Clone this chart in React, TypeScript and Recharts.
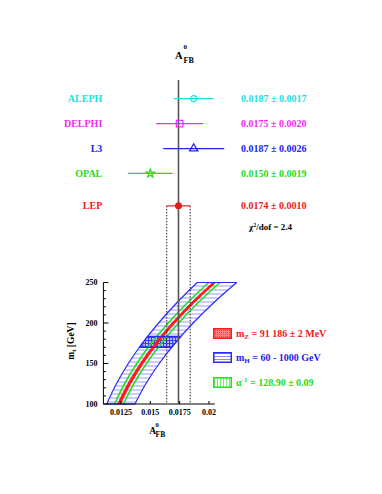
import React from 'react';
import { ComposedChart, Area, Scatter, XAxis, YAxis, ReferenceLine, ErrorBar, Legend, Symbols } from 'recharts';

// LEP measurements of A_FB^0 (b quarks)
const EXPERIMENTS = ['ALEPH', 'DELPHI', 'L3', 'OPAL', 'LEP'];
const AFB = [0.0187, 0.0175, 0.0187, 0.015, 0.0174];
const AFB_ERR = [0.0017, 0.002, 0.0026, 0.0019, 0.001];
const CHI2_DOF = 2.4;

// SM prediction vs m_t
const MT = [100, 125, 150, 175, 200, 225, 250];
const MH_LO = [0.01128, 0.01211, 0.01312, 0.01432, 0.0157, 0.01726, 0.019];
const MH_HI = [0.01369, 0.01462, 0.01576, 0.0171, 0.01865, 0.0204, 0.02236];
const ALPHA_LO = [0.01195, 0.0128, 0.01385, 0.01509, 0.01653, 0.01815, 0.01998];
const ALPHA_HI = [0.01271, 0.0136, 0.01467, 0.01595, 0.01741, 0.01907, 0.02092];
const MZ_LO = [0.01221, 0.01308, 0.01414, 0.0154, 0.01685, 0.01849, 0.02033];
const MZ_HI = [0.01245, 0.01332, 0.01438, 0.01564, 0.01709, 0.01873, 0.02057];

// measured m_t range, with the band edges there
const MT_MEAS = [170, 183.5];
const MT_MEAS_LO = [0.01406, 0.01477];
const MT_MEAS_HI = [0.01681, 0.01761];

const X_TICKS = [0.0125, 0.015, 0.0175, 0.02];
const Y_TICKS = [100, 110, 120, 130, 140, 150, 160, 170, 180, 190, 200, 210, 220, 230, 240, 250];
const X_AXIS_RANGE = [0.011, 0.0205];
const Y_AXIS_RANGE = [100, 250];

const LEGEND_ITEMS = [
  { main: 'm', sub: 'Z', sup: '', rest: ' = 91 186 \u00b1 2 MeV' },
  { main: 'm', sub: 'H', sup: '', rest: ' = 60 - 1000 GeV' },
  { main: '\u03b1', sub: '', sup: '-1', rest: ' = 128.90 \u00b1 0.09' },
];

// layout / style
const COLORS = ['#1cdede', '#f02cf0', '#2222ee', '#22dd22', '#ee1a1a'];
const MARKERS = ['circle', 'square', 'triangle', 'star', 'dot'];
const MARKER_SIZE = [30, 44, 30, 22, 0];
const ROW_POS = [1, 2, 3, 4, 5.3];
const ROW_DOMAIN = [0.25, 13.25];
const NAME_X = 102.3;
const VALUE_X = 241;
const BLUE = '#2a2aff';
const GREEN = '#22e022';
const RED = '#ff1a1a';
const SERIF = '"Liberation Serif", "DejaVu Serif", serif';
const TXT: React.CSSProperties = { fontFamily: SERIF, fontWeight: 700, fontSize: 10 };
const TICK_TXT: React.CSSProperties = { fontFamily: SERIF, fontWeight: 700, fontSize: 8 };
const MARGIN = { top: 80, right: 143.7, bottom: 70, left: 73.4 };
const X_TICK_MARGIN = 5;
const Y_TICK_MARGIN = 6;

const band = (lo: number[], hi: number[], mt: number[] = MT) => mt.map((m, i) => ({ mt: m, v: [lo[i], hi[i]] }));

const fmt = (v: number) => v.toFixed(4);

const expShape = (i: number) => (p: any) => {
  const { cx, cy } = p;
  const c = COLORS[i];
  return (
    <g>
      {MARKERS[i] === 'dot' ? (
        <circle cx={cx} cy={cy} r={3.5} fill={c} />
      ) : (
        <Symbols cx={cx} cy={cy} type={MARKERS[i] as any} size={MARKER_SIZE[i]} fill="none" stroke={c} strokeWidth={1.2} />
      )}
      <text x={NAME_X} y={cy} dy="0.35em" textAnchor="end" fill={c} style={TXT}>{EXPERIMENTS[i]}</text>
      <text x={VALUE_X} y={cy} dy="0.35em" textAnchor="start" fill={c} style={TXT}>
        {fmt(AFB[i])} {'\u00b1'} {fmt(AFB_ERR[i])}
      </text>
    </g>
  );
};

const XTick = (props: any) => {
  const { x, y, payload } = props;
  const axisY = y - X_TICK_MARGIN;
  return (
    <g>
      <line x1={x} x2={x} y1={axisY} y2={axisY - 3} stroke="#000" />
      <text x={x} y={y} dy="0.71em" textAnchor="middle" fill="#000" style={TICK_TXT}>{payload.value}</text>
    </g>
  );
};

const YTick = (props: any) => {
  const { x, y, payload } = props;
  const axisX = x + Y_TICK_MARGIN;
  const major = payload.value % 50 === 0;
  return (
    <g>
      <line x1={axisX} x2={axisX + (major ? 5 : 2.5)} y1={y} y2={y} stroke="#000" />
      {major && (
        <text x={x} y={y} dy="0.35em" textAnchor="end" fill="#000" style={TICK_TXT}>{payload.value}</text>
      )}
    </g>
  );
};

const LegendBoxes = () => {
  const fills = ['url(#lgRed)', 'url(#lgBlue)', 'url(#lgGreen)'];
  const strokes = [RED, BLUE, GREEN];
  const textColors = [COLORS[4], COLORS[2], COLORS[3]];
  return (
    <div style={{ display: 'flex', flexDirection: 'column', gap: 13.8 }}>
      <svg width={0} height={0} style={{ position: 'absolute' }}>
        <defs>
          <pattern id="lgRed" width="2" height="2" patternUnits="userSpaceOnUse">
            <rect width="2" height="2" fill="#ff8080" />
            <rect width="1" height="1" fill="#f04040" />
          </pattern>
          <pattern id="lgBlue" width="3" height="3" patternUnits="userSpaceOnUse">
            <line x1="0" x2="3" y1="1.5" y2="1.5" stroke="#8c8cff" strokeWidth="1" />
          </pattern>
          <pattern id="lgGreen" width="3" height="3" patternUnits="userSpaceOnUse">
            <line x1="1.5" x2="1.5" y1="0" y2="3" stroke="#77ee77" strokeWidth="1" />
          </pattern>
        </defs>
      </svg>
      {LEGEND_ITEMS.map((it, i) => (
        <div key={i} style={{ display: 'flex', alignItems: 'center', height: 11 }}>
          <svg width={19} height={11}>
            <rect x={0.75} y={0.75} width={17.5} height={9.5} fill={fills[i]} stroke={strokes[i]} strokeWidth={1.5} />
          </svg>
          <span style={{ ...TXT, color: textColors[i], marginLeft: 4.5, lineHeight: '11px', whiteSpace: 'nowrap' }}>
            {it.main}
            {it.sub && <sub style={{ fontSize: 7, lineHeight: 0, verticalAlign: '-2px' }}>{it.sub}</sub>}
            {it.sup && <sup style={{ fontSize: 7, lineHeight: 0, verticalAlign: '4px' }}>{it.sup}</sup>}
            {it.rest}
          </span>
        </div>
      ))}
    </div>
  );
};

export default function App() {
  const lep = 4;
  return (
    <div style={{ position: 'absolute', left: 0, top: 0, width: 382, height: 494, background: '#fff' }}>
      <ComposedChart width={382} height={494} layout="vertical" margin={MARGIN}>
        <defs>
          <pattern id="hatchH" width="4" height="4" patternUnits="userSpaceOnUse">
            <line x1="0" x2="4" y1="2" y2="2" stroke="#9a9aff" strokeWidth="1" />
          </pattern>
          <pattern id="hatchX" width="3" height="3" patternUnits="userSpaceOnUse">
            <rect width="3" height="3" fill="#b8b8ff" />
            <line x1="0" x2="3" y1="1.5" y2="1.5" stroke="#3434e8" strokeWidth="0.9" />
            <line x1="1.5" x2="1.5" y1="0" y2="3" stroke="#3434e8" strokeWidth="0.9" />
          </pattern>
        </defs>
        <XAxis
          type="number"
          dataKey="a"
          domain={[0.011, 0.0225]}
          ticks={X_TICKS}
          interval={0}
          height={20}
          axisLine={false}
          tickLine={false}
          tickSize={0}
          tickMargin={X_TICK_MARGIN}
          tick={<XTick />}
        />
        <YAxis
          yAxisId="mt"
          type="number"
          dataKey="mt"
          domain={[100, 500]}
          reversed
          ticks={Y_TICKS}
          interval={0}
          width={30}
          axisLine={false}
          tickLine={false}
          tickSize={0}
          tickMargin={Y_TICK_MARGIN}
          tick={<YTick />}
        />
        <YAxis yAxisId="row" type="number" dataKey="row" domain={ROW_DOMAIN} hide />

        <Area
          yAxisId="mt"
          data={band(MH_LO, MH_HI)}
          dataKey="v"
          type="monotone"
          stroke={BLUE}
          strokeWidth={1.2}
          fill="url(#hatchH)"
          fillOpacity={1}
          dot={false}
          activeDot={false}
          isAnimationActive={false}
        />
        <Area
          yAxisId="mt"
          data={band(MT_MEAS_LO, MT_MEAS_HI, MT_MEAS)}
          dataKey="v"
          type="linear"
          stroke={BLUE}
          strokeWidth={1.2}
          fill="url(#hatchX)"
          fillOpacity={1}
          dot={false}
          activeDot={false}
          isAnimationActive={false}
        />
        <Area
          yAxisId="mt"
          data={band(ALPHA_LO, ALPHA_HI)}
          dataKey="v"
          type="monotone"
          stroke={GREEN}
          strokeWidth={1.6}
          fill="none"
          dot={false}
          activeDot={false}
          isAnimationActive={false}
        />
        <Area
          yAxisId="mt"
          data={band(MZ_LO, MZ_HI)}
          dataKey="v"
          type="monotone"
          stroke={RED}
          strokeWidth={1}
          fill={RED}
          fillOpacity={1}
          dot={false}
          activeDot={false}
          isAnimationActive={false}
        />

        {/* band end caps */}
        <ReferenceLine yAxisId="mt" segment={[{ x: MH_LO[0], y: MT[0] }, { x: MH_HI[0], y: MT[0] }]} stroke={BLUE} strokeWidth={1.2} />
        <ReferenceLine yAxisId="mt" segment={[{ x: MH_LO[6], y: MT[6] }, { x: MH_HI[6], y: MT[6] }]} stroke={BLUE} strokeWidth={1.2} />
        <ReferenceLine yAxisId="mt" segment={[{ x: MT_MEAS_LO[0], y: MT_MEAS[0] }, { x: MT_MEAS_HI[0], y: MT_MEAS[0] }]} stroke={BLUE} strokeWidth={1.2} />
        <ReferenceLine yAxisId="mt" segment={[{ x: MT_MEAS_LO[1], y: MT_MEAS[1] }, { x: MT_MEAS_HI[1], y: MT_MEAS[1] }]} stroke={BLUE} strokeWidth={1.2} />

        {/* frame of the lower plot */}
        <ReferenceLine yAxisId="mt" segment={[{ x: X_AXIS_RANGE[0], y: Y_AXIS_RANGE[0] }, { x: X_AXIS_RANGE[1], y: Y_AXIS_RANGE[0] }]} stroke="#000" strokeWidth={1} />
        <ReferenceLine yAxisId="mt" segment={[{ x: X_AXIS_RANGE[0], y: Y_AXIS_RANGE[0] }, { x: X_AXIS_RANGE[0], y: Y_AXIS_RANGE[1] }]} stroke="#000" strokeWidth={1} />

        {/* LEP average */}
        <ReferenceLine
          yAxisId="row"
          segment={[{ x: AFB[lep] - AFB_ERR[lep], y: ROW_POS[lep] }, { x: AFB[lep] - AFB_ERR[lep], y: ROW_DOMAIN[1] }]}
          stroke="#222"
          strokeWidth={1}
          strokeDasharray="1.5 1.5"
        />
        <ReferenceLine
          yAxisId="row"
          segment={[{ x: AFB[lep] + AFB_ERR[lep], y: ROW_POS[lep] }, { x: AFB[lep] + AFB_ERR[lep], y: ROW_DOMAIN[1] }]}
          stroke="#222"
          strokeWidth={1}
          strokeDasharray="1.5 1.5"
        />
        <ReferenceLine yAxisId="mt" x={AFB[lep]} stroke="#555" strokeWidth={1.6} />

        {EXPERIMENTS.map((name, i) => (
          <Scatter
            key={name}
            yAxisId="row"
            data={[{ a: AFB[i], row: ROW_POS[i], err: AFB_ERR[i] }]}
            shape={expShape(i)}
            isAnimationActive={false}
          >
            <ErrorBar dataKey="err" direction="x" width={0} stroke={COLORS[i]} strokeWidth={1.2} isAnimationActive={false} />
          </Scatter>
        ))}

        <Legend
          layout="horizontal"
          verticalAlign="middle"
          align="center"
          content={() => <LegendBoxes />}
          wrapperStyle={{ position: 'absolute', left: 212.5, top: 327.5, width: 170, height: 62, margin: 0 }}
        />
      </ComposedChart>

      <svg width={382} height={494} style={{ position: 'absolute', left: 0, top: 0, pointerEvents: 'none' }}>
        <g style={{ fontFamily: SERIF, fontWeight: 700 }} fill="#000">
          <text x={175} y={58.5} fontSize={10.5}>A</text>
          <text x={183.6} y={49} fontSize={7}>0</text>
          <text x={183.6} y={62.5} fontSize={8}>FB</text>

          <text x={149.3} y={434} fontSize={9.5}>A</text>
          <text x={155.6} y={426.5} fontSize={6.5}>0</text>
          <text x={155.6} y={436.5} fontSize={7.5}>FB</text>

          <text transform="rotate(-90)" x={-341} y={73.5} fontSize={9.5} textAnchor="middle">
            m<tspan fontSize={6.5} dy={2}>t</tspan><tspan dy={-2}> [GeV]</tspan>
          </text>

          <text x={249} y={230} fontSize={9}>
            {'\u03c7'}<tspan fontSize={6} dy={-3.5}>2</tspan><tspan dy={3.5}>/dof = {CHI2_DOF}</tspan>
          </text>
        </g>
      </svg>
    </div>
  );
}
